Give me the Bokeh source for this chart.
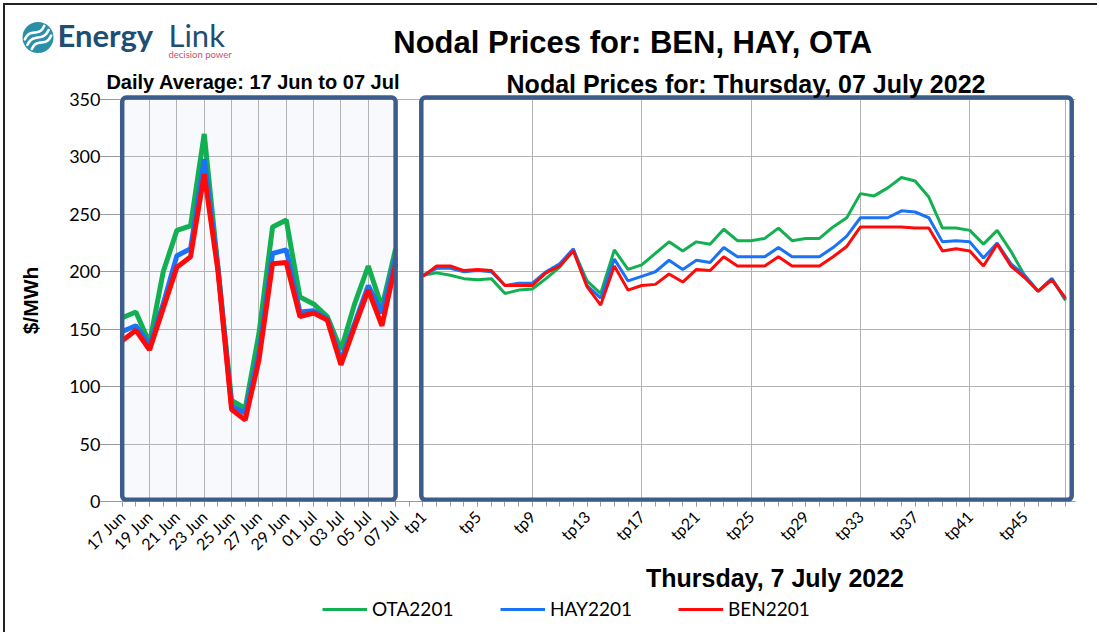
import numpy as np
from bokeh.plotting import figure
from bokeh.layouts import column
from bokeh.core.properties import value
from bokeh.models import (FixedTicker, BoxAnnotation, Label, Legend, LegendItem, Range1d)
from bokeh.embed import file_html
from bokeh.resources import INLINE

# ---------------- data ----------------
day_labels = ["17 Jun", "18 Jun", "19 Jun", "20 Jun", "21 Jun", "22 Jun", "23 Jun",
              "24 Jun", "25 Jun", "26 Jun", "27 Jun", "28 Jun", "29 Jun", "30 Jun",
              "01 Jul", "02 Jul", "03 Jul", "04 Jul", "05 Jul", "06 Jul", "07 Jul"]
ota_daily = [160, 165, 138, 200, 236, 240, 320, 204, 88, 81, 146, 239, 245, 178,
             172, 161, 132, 172, 205, 169, 220]
hay_daily = [148, 153, 136, 172, 214, 220, 298, 204, 83, 77, 129, 216, 219, 165,
             166, 159, 123, 155, 188, 164, 213]
ben_daily = [140, 149, 132, 168, 204, 213, 285, 201, 80, 71, 123, 207, 208, 161,
             164, 158, 119, 152, 184, 153, 207]

tp_labels = ["tp%d" % k for k in range(1, 49)]
ota_tp = [197, 199, 197, 194, 193, 194, 181, 184, 185, 194,
          204, 219, 192, 181, 219, 202, 206, 216, 226, 218,
          226, 224, 237, 227, 227, 229, 238, 227, 229, 229,
          239, 247, 268, 266, 273, 282, 279, 265, 238, 238,
          236, 224, 236, 218, 197, 183, 194, 175]
hay_tp = [197, 203, 203, 200, 201, 200, 188, 190, 190, 200,
          207, 220, 188, 177, 211, 192, 196, 200, 210, 202,
          210, 208, 221, 213, 213, 213, 221, 213, 213, 213,
          221, 231, 247, 247, 247, 253, 252, 247, 226, 227,
          226, 212, 225, 207, 197, 183, 194, 176]
ben_tp = [196, 205, 205, 201, 202, 201, 188, 188, 188, 199,
          205, 218, 187, 171, 205, 184, 188, 189, 198, 191,
          202, 201, 213, 205, 205, 205, 213, 205, 205, 205,
          213, 222, 239, 239, 239, 239, 238, 238, 218, 220,
          218, 205, 224, 205, 195, 183, 193, 177]

series_names = ["OTA2201", "HAY2201", "BEN2201"]
y_ticks = [0, 50, 100, 150, 200, 250, 300, 350]

main_title = "Nodal Prices for:  BEN, HAY, OTA"
left_title = "Daily Average: 17 Jun to 07 Jul"
right_title = "Nodal Prices for: Thursday, 07 July 2022"
x_title = "Thursday, 7 July 2022"
y_title = "$/MWh"

# ---------------- positions ----------------
n_days = len(day_labels)
day_x = list(range(n_days))                              # 0..20
tp_x = [n_days + 1 + i for i in range(len(tp_labels))]   # 22..69

OTA_C, HAY_C, BEN_C = "#12b050", "#1a72f5", "#ff0a0a"
BOX_C = "#3c5d8c"
GRID_C = "#b3b3b3"
ARIAL = "Liberation Sans"
CALIBRI = "Lato"

OFF = 5                 # content starts at page (5, 5) inside the outer frame line
PAGE_R = 1097
W = PAGE_R - OFF
HEAD_TOP, HEAD_BOT = OFF, 62
MAIN_BOT = 563
FOOT_BOT = 632
FR_L, FR_R, FR_B = 100, 1075, 502      # main frame, page px
X0, PX = 121.7, 13.671
def XD(px):
    return (px - X0) / PX
def YD(py):
    return (502.0 - py) * 350.0 / 403.0

# ---------------- header (logo + main title), page coordinates ----------------
h = figure(width=W, height=HEAD_BOT - HEAD_TOP, output_backend="svg", toolbar_location=None,
           x_range=Range1d(OFF, PAGE_R), y_range=Range1d(HEAD_BOT, HEAD_TOP),
           x_axis_location=None, y_axis_location=None, min_border=0)
h.frame_align = False
h.outline_line_color = None
h.grid.visible = False
cx, cy, rad = 37.5, 37.0, 15.5
h.scatter([cx], [cy], size=2 * rad, marker="circle", fill_color="#2a8fa7",
          line_color=None)
d = np.array([np.cos(np.radians(35)), -np.sin(np.radians(35))])
nrm = np.array([np.sin(np.radians(35)), np.cos(np.radians(35))])
for s in (-6.0, 0.0, 6.0):
    half = np.sqrt(rad ** 2 - s ** 2) - 2.5
    u = np.linspace(-1, 1, 30)
    pts = np.array([cx, cy])[None, :] + (u * half)[:, None] * d[None, :] + \
        (s + 2.0 * np.sin(np.pi * u))[:, None] * nrm[None, :]
    h.line(pts[:, 0], pts[:, 1], line_color="white", line_width=2.6, line_cap="round")
h.text([57], [34], text=["Energy"], text_font=value(CALIBRI), text_font_size="31px",
       text_font_style="bold", text_color="#1e4f72", text_baseline="middle")
h.text([168], [34], text=["Link"], text_font=value(CALIBRI), text_font_size="31px",
       text_color="#1e4f72", text_baseline="middle")
h.text([168], [53.5], text=["decision power"], text_font=value(CALIBRI),
       text_font_size="9.5px", text_color="#c8506e", text_baseline="middle")
h.text([636.5], [42], text=[main_title], text_font=value(ARIAL), text_font_size="31px",
       text_font_style="bold", text_color="black", text_align="center",
       text_baseline="middle")

# ---------------- main chart ----------------
p = figure(width=W, height=MAIN_BOT - HEAD_BOT, output_backend="svg", toolbar_location=None,
           x_range=Range1d(XD(FR_L), XD(FR_R)), y_range=Range1d(0, YD(HEAD_BOT)),
           min_border_left=FR_L - OFF, min_border_right=PAGE_R - FR_R,
           min_border_top=0, min_border_bottom=MAIN_BOT - FR_B)
p.frame_align = False
p.outline_line_color = None
p.background_fill_color = "white"
p.border_fill_color = "white"

p.add_layout(BoxAnnotation(left=0, right=n_days - 1, bottom=0, top=350,
                           fill_color="#f7f9fd", fill_alpha=1, line_color=None,
                           level="image"))
# hide grid lines outside the two panels' area
p.add_layout(BoxAnnotation(bottom=YD(96.5), fill_color="white", fill_alpha=1,
                           line_color=None, level="glyph"))
p.add_layout(BoxAnnotation(right=XD(117.5), fill_color="white", fill_alpha=1,
                           line_color=None, level="glyph"))

for ys, c in [(ota_daily, OTA_C), (hay_daily, HAY_C), (ben_daily, BEN_C)]:
    p.line(day_x, ys, line_color=c, line_width=5)
for ys, c in [(ota_tp, OTA_C), (hay_tp, HAY_C), (ben_tp, BEN_C)]:
    p.line(tp_x, ys, line_color=c, line_width=3)

p.add_layout(BoxAnnotation(left=0, right=n_days - 1, bottom=YD(500.3), top=YD(97.2),
                           fill_alpha=0, line_color=BOX_C, line_alpha=1,
                           line_width=4.5, border_radius=4))
p.add_layout(BoxAnnotation(left=XD(420.8), right=XD(1071.2), bottom=YD(500.3), top=YD(97.2),
                           fill_alpha=0, line_color=BOX_C, line_alpha=1,
                           line_width=4.5, border_radius=4))

# x axis
major = list(range(0, n_days, 2)) + tp_x[::4]
overrides = {i: day_labels[i] for i in range(0, n_days, 2)}
for i, x in enumerate(tp_x):
    if i % 4 == 0:
        overrides[x] = tp_labels[i]
p.xaxis.ticker = FixedTicker(ticks=major, minor_ticks=list(range(0, tp_x[-1] + 1)))
p.xaxis.bounds = (XD(113.5), XD(FR_R))
p.xaxis.major_label_overrides = overrides
p.xaxis.major_label_orientation = np.pi / 4
p.xaxis.major_label_text_font = CALIBRI
p.xaxis.major_label_text_font_size = "16px"
p.xaxis.major_label_text_color = "black"
p.xaxis.major_label_standoff = 7
p.xaxis.axis_line_color = "#9a9a9a"
p.xaxis.major_tick_line_color = "#9a9a9a"
p.xaxis.minor_tick_line_color = "#9a9a9a"
p.xaxis.major_tick_in = 0
p.xaxis.major_tick_out = 5
p.xaxis.minor_tick_in = 0
p.xaxis.minor_tick_out = 5

# y axis: ticks reach in to the panel edge, labels end at the frame edge
p.yaxis.ticker = FixedTicker(ticks=y_ticks, minor_ticks=[])
p.yaxis.major_label_text_font = CALIBRI
p.yaxis.major_label_text_font_size = "18px"
p.yaxis.major_label_text_color = "black"
p.yaxis.major_label_standoff = 0
p.yaxis.axis_line_color = None
p.yaxis.major_tick_line_color = "#9a9a9a"
p.yaxis.major_tick_in = 119 - FR_L
p.yaxis.major_tick_out = 0

p.xgrid.ticker = FixedTicker(ticks=list(range(0, n_days, 2)) + [tp_x[0]] + tp_x[8::8] + [tp_x[-1]])
p.xgrid.grid_line_color = GRID_C
p.ygrid.ticker = FixedTicker(ticks=y_ticks)
p.ygrid.grid_line_color = GRID_C

# panel titles
p.add_layout(Label(x=XD(252.8), y=YD(81.3), text=left_title, text_align="center",
                   text_baseline="middle", text_font=ARIAL, text_font_size="20px",
                   text_font_style="bold", text_color="black"))
p.add_layout(Label(x=XD(745.5), y=YD(83.3), text=right_title, text_align="center",
                   text_baseline="middle", text_font=ARIAL, text_font_size="25px",
                   text_font_style="bold", text_color="black"))
# y axis title (canvas units, relative to this figure's canvas)
p.add_layout(Label(x=30 - OFF, y=300 - HEAD_BOT, x_units="canvas", y_units="canvas",
                   text=y_title, text_align="center", text_baseline="middle",
                   text_font=ARIAL, text_font_size="21px", text_font_style="bold",
                   text_color="black", angle=np.pi / 2), "left")

# ---------------- footer (x title + legend), page coordinates ----------------
f = figure(width=W, height=FOOT_BOT - MAIN_BOT, output_backend="svg", toolbar_location=None,
           x_range=Range1d(OFF, PAGE_R), y_range=Range1d(FOOT_BOT, MAIN_BOT),
           x_axis_location=None, y_axis_location=None, min_border=0)
f.frame_align = False
f.outline_line_color = None
f.grid.visible = False
f.text([774.5], [577.5], text=[x_title], text_font=value(ARIAL), text_font_size="25px",
       text_font_style="bold", text_color="black", text_align="center",
       text_baseline="middle")
# legend keys: the series drawn on this strip's scale fall outside its visible range
leg_renderers = [f.line(tp_x, ys, line_color=c, line_width=3)
                 for ys, c in [(ota_tp, OTA_C), (hay_tp, HAY_C), (ben_tp, BEN_C)]]
legend = Legend(items=[LegendItem(label=n, renderers=[r])
                       for n, r in zip(series_names, leg_renderers)],
                orientation="horizontal", location=(322 - OFF, FOOT_BOT - 620),
                glyph_width=45, glyph_height=22, label_standoff=5, label_width=123,
                label_height=22, spacing=5, padding=0, margin=0,
                border_line_color=None, background_fill_alpha=0,
                label_text_font=CALIBRI, label_text_font_size="19px",
                label_text_color="black")
f.add_layout(legend, "center")

layout = column(h, p, f, spacing=0,
                styles={"border-top": "2px solid #222", "border-left": "2px solid #222",
                        "margin-top": "3px", "margin-left": "3px"})
open("out.html", "w").write(file_html(layout, INLINE))
